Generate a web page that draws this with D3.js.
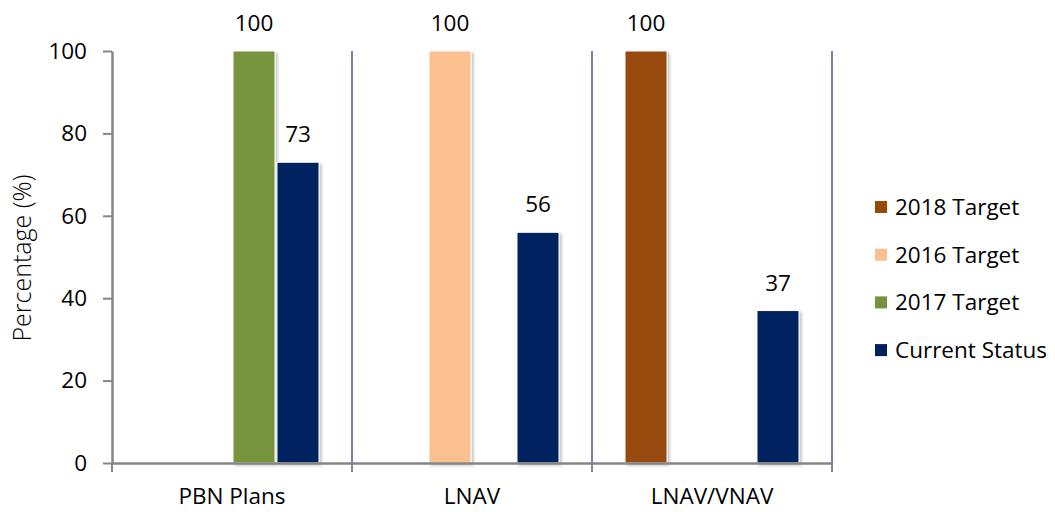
<!DOCTYPE html>
<html>
<head>
<meta charset="utf-8">
<script src="https://cdn.jsdelivr.net/npm/d3@7"></script>
<style>
  body { margin: 0; background: #fff; }
  text { font-family: "Open Sans", sans-serif; fill: #000; }
</style>
</head>
<body>
<script>
// data
const categories = ["PBN Plans", "LNAV", "LNAV/VNAV"];
const seriesNames = ["2018 Target", "2016 Target", "2017 Target", "Current Status"];
const seriesColors = ["#984807", "#fac090", "#77933c", "#002060"];
const target2018 = [null, null, 100];
const target2016 = [null, 100, null];
const target2017 = [100, null, null];
const currentStatus = [73, 56, 37];
const yTicks = [0, 20, 40, 60, 80, 100];

const seriesValues = [target2018, target2016, target2017, currentStatus];

const width = 1055, height = 512;
const plotLeft = 112, plotRight = 832, plotTop = 51, plotBottom = 463;
const fs = 22.5;

const svg = d3.select("body").append("svg")
    .attr("width", width)
    .attr("height", height);

const defs = svg.append("defs");
const shadow = defs.append("filter").attr("id", "shadow")
    .attr("x", "-20%").attr("y", "-5%").attr("width", "150%").attr("height", "115%");
shadow.append("feDropShadow")
    .attr("dx", 2).attr("dy", 2).attr("stdDeviation", 1.6)
    .attr("flood-color", "#000").attr("flood-opacity", 0.25);

const x = d3.scaleBand().domain(categories).range([plotLeft, plotRight]).padding(0);
const xs = d3.scaleBand().domain(seriesNames).range([0, x.bandwidth()])
    .paddingInner(0.045).paddingOuter(0.75);
const y = d3.scaleLinear().domain([0, 100]).range([plotBottom, plotTop]);

// category separators
svg.selectAll("line.sep").data(categories)
    .enter().append("line")
        .attr("class", "sep")
        .attr("x1", d => x(d) + x.bandwidth())
        .attr("x2", d => x(d) + x.bandwidth())
        .attr("y1", plotTop)
        .attr("y2", plotBottom)
        .attr("stroke", "#8a76aa")
        .attr("stroke-width", 2);

// bars
const rows = [];
seriesValues.forEach((vals, s) => {
    vals.forEach((v, c) => {
        if (v != null) rows.push({ s, c, v });
    });
});

svg.selectAll("rect.bar").data(rows)
    .enter().append("rect")
        .attr("class", "bar")
        .attr("x", d => x(categories[d.c]) + xs(seriesNames[d.s]))
        .attr("y", d => y(d.v))
        .attr("width", xs.bandwidth())
        .attr("height", d => y(0) - y(d.v))
        .attr("fill", d => seriesColors[d.s])
        .attr("stroke", "#fff")
        .attr("stroke-width", 1)
        .attr("filter", "url(#shadow)");

svg.selectAll("text.lbl").data(rows)
    .enter().append("text")
        .attr("class", "lbl")
        .attr("x", d => x(categories[d.c]) + xs(seriesNames[d.s]) + xs.bandwidth() / 2)
        .attr("y", d => y(d.v) - 20)
        .attr("text-anchor", "middle")
        .attr("font-size", fs)
        .text(d => d.v);

// y axis
const yAxis = svg.append("g")
    .attr("transform", `translate(${plotLeft},0)`)
    .call(d3.axisLeft(y).tickValues(yTicks).tickSize(9).tickPadding(16).tickSizeOuter(0));
yAxis.select(".domain").attr("stroke", "#868686").attr("stroke-width", 2.5);
yAxis.selectAll(".tick line").attr("stroke", "#868686").attr("stroke-width", 2);
yAxis.selectAll(".tick text").attr("font-size", fs).attr("font-family", "Open Sans").attr("fill", "#000");

// x axis
const xAxis = svg.append("g")
    .attr("transform", `translate(0,${plotBottom})`)
    .call(d3.axisBottom(x).tickSize(0).tickPadding(25));
xAxis.select(".domain").attr("stroke", "#868686").attr("stroke-width", 2.5);
xAxis.selectAll(".tick text").attr("font-size", fs).attr("font-family", "Open Sans").attr("fill", "#000");

const xTickPos = [plotLeft].concat(categories.map(d => x(d) + x.bandwidth()));
svg.selectAll("line.xtick").data(xTickPos)
    .enter().append("line")
        .attr("class", "xtick")
        .attr("x1", d => d).attr("x2", d => d)
        .attr("y1", plotBottom).attr("y2", plotBottom + 9)
        .attr("stroke", "#868686")
        .attr("stroke-width", 2);

// y title
svg.append("text")
    .attr("transform", `translate(31,258) rotate(-90)`)
    .attr("text-anchor", "middle")
    .attr("font-size", 25)
    .attr("font-weight", 300)
    .attr("fill", "#000")
    .text("Percentage (%)");

// legend
const legend = svg.selectAll("g.leg").data(seriesNames)
    .enter().append("g")
        .attr("class", "leg")
        .attr("transform", (d, i) => `translate(875,${207 + i * 47.7})`);
legend.append("rect")
    .attr("x", 0).attr("y", -6)
    .attr("width", 12).attr("height", 12)
    .attr("fill", (d, i) => seriesColors[i]);
legend.append("text")
    .attr("x", 20).attr("y", 0)
    .attr("dy", "0.35em")
    .attr("font-size", fs)
    .text(d => d);
</script>
</body>
</html>
